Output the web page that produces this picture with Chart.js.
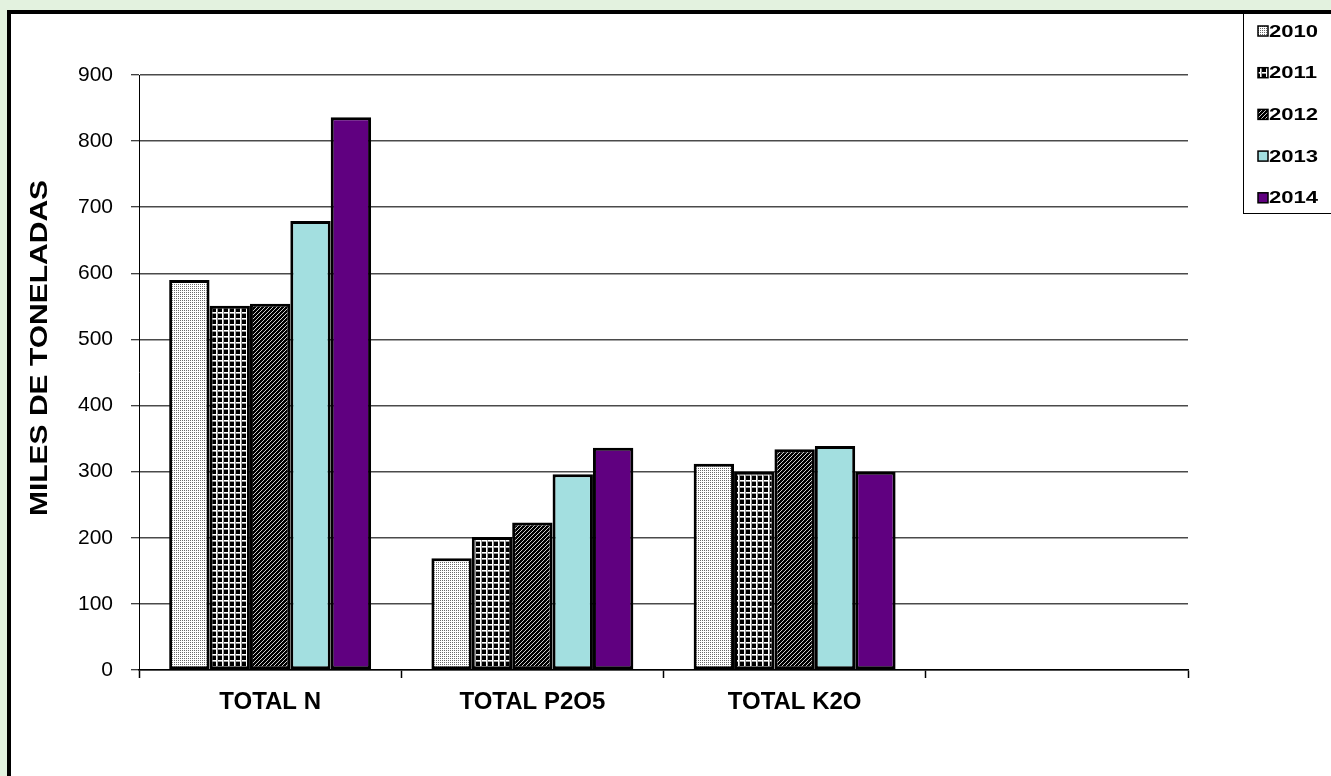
<!DOCTYPE html>
<html>
<head>
<meta charset="utf-8">
<script src="https://cdn.jsdelivr.net/npm/chart.js@4"></script>
<style>
  html, body { margin: 0; padding: 0; background: #e3f2df; }
  canvas { display: block; }
</style>
</head>
<body>
<canvas id="chart" width="1331" height="776"></canvas>
<script>
// categories and years
const CATEGORIES = ["TOTAL N", "TOTAL P2O5", "TOTAL K2O", ""]
const YEARS = ["2010", "2011", "2012", "2013", "2014"]

// values per year (thousands of tonnes)
const Y2010 = [590, 169, 312, null]
const Y2011 = [551, 201, 300, null]
const Y2012 = [554, 223, 334, null]
const Y2013 = [679, 296, 339, null]
const Y2014 = [836, 336, 300, null]

// y axis ticks
const Y_MIN = 0
const Y_MAX = 900
const Y_STEP = 100

const Y_TITLE = "MILES DE TONELADAS"


// small tile for a fill pattern
function tile(w, h, bg, parts) {
  const c = document.createElement("canvas")
  c.width = w
  c.height = h
  const ctx = c.getContext("2d")
  ctx.fillStyle = bg
  ctx.fillRect(0, 0, w, h)
  parts.forEach(function (p) {
    ctx.fillStyle = p[4]
    ctx.fillRect(p[0], p[1], p[2], p[3])
  })
  return ctx.createPattern(c, "repeat")
}


// fills of the series
const dots = tile(2, 2, "#ffffff", [[0, 0, 1, 1, "#6a6a6a"]])
const grid = tile(6, 6, "#000000", [
  [0, 0, 6, 1, "#ffffff"], [0, 1, 6, 1, "#9a9a9a"],
  [0, 0, 1, 6, "#ffffff"], [1, 0, 1, 6, "#9a9a9a"],
])
const stripes = tile(4, 4, "#000000", [
  [0, 3, 1, 1, "#cfcfcf"], [1, 2, 1, 1, "#cfcfcf"],
  [2, 1, 1, 1, "#cfcfcf"], [3, 0, 1, 1, "#cfcfcf"],
])
const FILLS = [dots, grid, stripes, "#a3dfe0", "#600080"]
const SERIES = [Y2010, Y2011, Y2012, Y2013, Y2014]


// frame, legend and axis title
const decor = {
  id: "decor",
  beforeDraw: function (chart) {
    const ctx = chart.ctx
    ctx.save()
    ctx.fillStyle = "#e3f2df"
    ctx.fillRect(0, 0, chart.width, chart.height)
    ctx.fillStyle = "#ffffff"
    ctx.fillRect(9, 12, chart.width, chart.height)
    ctx.strokeStyle = "#000"
    ctx.lineWidth = 4
    ctx.strokeRect(9, 12, chart.width + 20, chart.height + 20)
    ctx.restore()
  },
  afterDraw: function (chart) {
    const ctx = chart.ctx
    ctx.save()

    // legend box
    ctx.strokeStyle = "#000"
    ctx.lineWidth = 1
    ctx.strokeRect(1243.5, 12, 200, 201.5)

    chart.data.datasets.forEach(function (ds, i) {
      const y = 31 + i * 41.7
      ctx.fillStyle = ds.backgroundColor
      ctx.fillRect(1258, y - 5, 10, 10)
      ctx.strokeStyle = "#000"
      ctx.lineWidth = 1.5
      ctx.strokeRect(1258, y - 5, 10, 10)

      ctx.save()
      ctx.translate(1269, y + 1)
      ctx.scale(1.3, 1)
      ctx.fillStyle = "#000"
      ctx.font = "bold 17px 'Liberation Sans', Arial"
      ctx.textBaseline = "middle"
      ctx.fillText(ds.label, 0, 0)
      ctx.restore()
    })

    // y axis title
    ctx.translate(40, 348)
    ctx.rotate(-Math.PI / 2)
    ctx.scale(1.25, 1)
    ctx.fillStyle = "#000"
    ctx.font = "bold 24px 'Liberation Sans', Arial"
    ctx.textAlign = "center"
    ctx.textBaseline = "middle"
    ctx.fillText(Y_TITLE, 0, 0)

    ctx.restore()
  },
}


// build datasets
const datasets = YEARS.map(function (year, i) {
  return {
    label: year,
    data: SERIES[i],
    backgroundColor: FILLS[i],
    borderColor: "#000",
    borderWidth: 3,
    borderSkipped: false,
    categoryPercentage: 0.77,
    barPercentage: 1,
  }
})


new Chart(document.getElementById("chart"), {
  type: "bar",
  data: {
    labels: CATEGORIES,
    datasets: datasets,
  },
  plugins: [decor],
  options: {
    responsive: false,
    animation: false,
    layout: {
      padding: { left: 0, top: 75, right: 143, bottom: 0 },
    },
    plugins: {
      legend: { display: false },
      tooltip: { enabled: false },
    },
    scales: {
      x: {
        afterFit: function (scale) { scale.height = 106 },
        grid: {
          offset: true,
          drawOnChartArea: false,
          drawTicks: true,
          tickLength: 8,
          tickColor: "#000",
          tickWidth: 1.5,
        },
        border: { color: "#000", width: 1.5 },
        ticks: {
          color: "#000",
          padding: 10,
          maxRotation: 0,
          font: { family: "'Liberation Sans', Arial", size: 24, weight: "bold" },
        },
      },
      y: {
        min: Y_MIN,
        max: Y_MAX,
        afterFit: function (scale) { scale.width = 139 },
        grid: {
          color: "#4a4a4a",
          lineWidth: 1.5,
          tickLength: 8,
          tickColor: "#000",
          tickWidth: 1,
        },
        border: { color: "#000", width: 1 },
        ticks: {
          stepSize: Y_STEP,
          color: "#000",
          padding: 18,
          font: { family: "'Liberation Sans', Arial", size: 21 },
        },
      },
    },
  },
})
</script>
</body>
</html>
